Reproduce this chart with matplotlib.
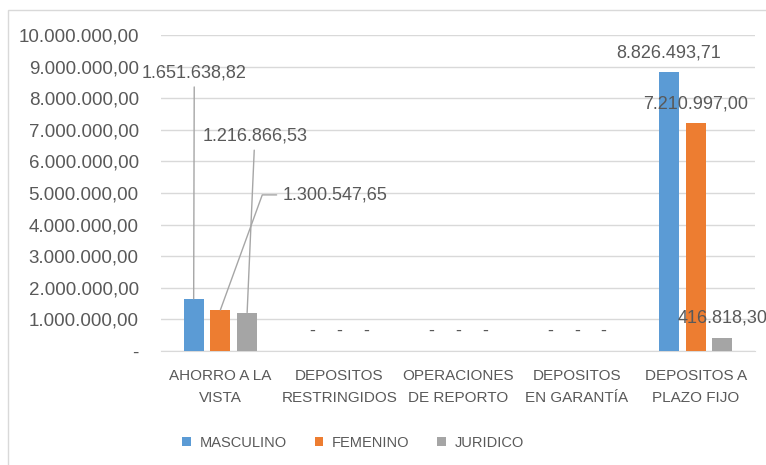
import matplotlib.pyplot as plt
import numpy as np
from matplotlib.patches import Rectangle

plt.rcParams['font.family'] = ['Liberation Sans', 'DejaVu Sans']

categories = ["AHORRO A LA\nVISTA", "DEPOSITOS\nRESTRINGIDOS", "OPERACIONES\nDE REPORTO",
              "DEPOSITOS\nEN GARANTÍA", "DEPOSITOS A\nPLAZO FIJO"]
series = ["MASCULINO", "FEMENINO", "JURIDICO"]
masculino = [1651638.82, 0, 0, 0, 8826493.71]
femenino = [1300547.65, 0, 0, 0, 7210997.00]
juridico = [1216866.53, 0, 0, 0, 416818.30]
colors = ["#5B9BD5", "#ED7D31", "#A5A5A5"]
yticks = list(range(0, 10000001, 1000000))

def fmt(v):
    if v == 0:
        return "-"
    s = f"{v:,.2f}"
    return s.replace(",", "X").replace(".", ",").replace("X", ".")

txt = "#595959"
fig = plt.figure(figsize=(7.66, 4.65), dpi=100)
fig.patches.append(Rectangle((8/766, -0.1), 1.2, (465-10)/465 + 0.1, transform=fig.transFigure,
                             fill=False, edgecolor="#D9D9D9", lw=1))
ax = fig.add_axes([161/766, 1-351/465, (755-161)/766, (351-35)/465])

x = np.arange(len(categories))
width = 0.17
step = 0.225
data = [masculino, femenino, juridico]
bars = []
for i, (name, vals) in enumerate(zip(series, data)):
    b = ax.bar(x + (i-1)*step, vals, width, color=colors[i], label=name, zorder=3)
    bars.append(b)

ax.set_xlim(-0.5, len(categories)-0.5)
ax.set_ylim(0, 10000000)
ax.set_yticks(yticks)
ax.set_yticklabels([fmt(v) for v in yticks])
ax.set_xticks(x)
ax.set_xticklabels(categories, linespacing=1.75)
ax.tick_params(axis='y', length=0, pad=16, labelsize=13.5, labelcolor=txt)
ax.tick_params(axis='x', length=0, pad=13, labelsize=11, labelcolor=txt)
ax.grid(axis='y', color="#D9D9D9", lw=1, zorder=0)
for s in ["top", "right", "left"]:
    ax.spines[s].set_visible(False)
ax.spines["bottom"].set_color("#D9D9D9")

# labels sitting on top of the bars
for i, vals in enumerate(data):
    for j, v in enumerate(vals):
        if j == 0:
            continue
        ax.annotate(fmt(v), (x[j] + (i-1)*step, v), xytext=(0, 14), textcoords="offset points",
                    ha="center", va="center", fontsize=13, color=txt, annotation_clip=False)

# ahorro a la vista labels, dragged out with leader lines
lead = dict(arrowstyle="-", color="#A6A6A6", lw=1, shrinkA=2, shrinkB=0)
ax.annotate(fmt(masculino[0]), (x[0]-step, masculino[0]), xytext=(-0.22, 8.8e6),
            ha="center", va="center", fontsize=13, color=txt, arrowprops=lead)
ax.annotate(fmt(juridico[0]), (x[0]+step, juridico[0]), xytext=(0.29, 6.8e6),
            ha="center", va="center", fontsize=13, color=txt, arrowprops=lead)
ax.annotate(fmt(femenino[0]), (x[0], femenino[0]), xytext=(0.52, 4.94e6),
            ha="left", va="center", fontsize=13, color=txt,
            arrowprops=dict(lead, connectionstyle="angle,angleA=180,angleB=70,rad=0", relpos=(0, 0.5)))

fig.legend(handles=bars, labels=series, loc="center", bbox_to_anchor=(0.461, 1-443/465), ncol=3,
           frameon=False, fontsize=10.5, labelcolor=txt, handlelength=0.6, handleheight=0.6,
           handletextpad=0.6, columnspacing=1.9)

fig.savefig("out.png", dpi=100)
